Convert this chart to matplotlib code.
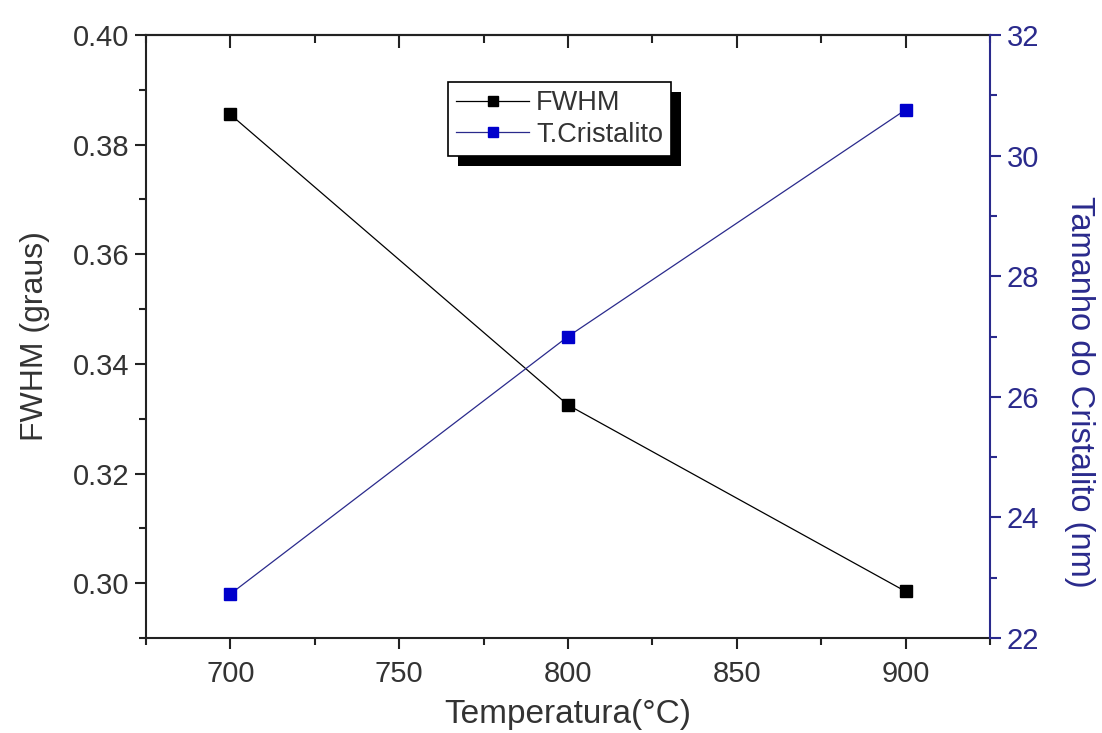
import matplotlib
matplotlib.use("Agg")
import matplotlib.pyplot as plt
from matplotlib.ticker import MultipleLocator
from matplotlib.patches import Rectangle

plt.rcParams['font.family'] = ['Liberation Sans', 'DejaVu Sans']

temperatura = [700, 800, 900]
fwhm = [0.3855, 0.3325, 0.2985]
cristalito = [22.73, 27.0, 30.76]

navy = '#2a2a8c'
txt = '#333333'
dark = '#222222'

W, H = 1102, 733
fig = plt.figure(figsize=(W/100, H/100), dpi=100)
ax = fig.add_axes([146/W, 1-638/H, (990-146)/W, (638-35)/H])
ax2 = ax.twinx()

l1, = ax.plot(temperatura, fwhm, color='black', lw=0.9, marker='s', ms=9,
              mfc='black', mec='black', label='FWHM')
l2, = ax2.plot(temperatura, cristalito, color=navy, lw=0.9, marker='s', ms=9,
               mfc='#0000cc', mec='#0000cc', label='T.Cristalito')

ax.set_xlim(675, 925)
ax.set_ylim(0.29, 0.40)
ax2.set_ylim(22, 32)

ax.xaxis.set_major_locator(MultipleLocator(50))
ax.xaxis.set_minor_locator(MultipleLocator(25))
ax.yaxis.set_major_locator(MultipleLocator(0.02))
ax.yaxis.set_minor_locator(MultipleLocator(0.01))
ax2.yaxis.set_major_locator(MultipleLocator(2))
ax2.yaxis.set_minor_locator(MultipleLocator(1))
ax.yaxis.set_major_formatter(plt.FuncFormatter(lambda v, p: f'{v:.2f}'))

ax.tick_params(axis='both', which='both', direction='out', labelsize=21,
               labelcolor=txt, color=dark, width=1.5)
ax.tick_params(axis='x', which='major', length=8, pad=8)
ax.tick_params(axis='x', which='minor', length=5)
ax.tick_params(axis='y', which='major', length=8, pad=4)
ax.tick_params(axis='y', which='minor', length=5)

top = ax.secondary_xaxis('top')
top.xaxis.set_major_locator(MultipleLocator(50))
top.xaxis.set_minor_locator(MultipleLocator(25))
top.tick_params(which='both', direction='in', labeltop=False, width=1.5, color=dark)
top.tick_params(which='major', length=9)
top.tick_params(which='minor', length=6)
top.spines['top'].set_linewidth(1.5)
top.spines['top'].set_color(dark)

ax2.tick_params(axis='y', which='both', direction='out', labelsize=21,
                labelcolor=navy, color=navy, width=1.5)
ax2.tick_params(axis='y', which='major', length=8, pad=4)
ax2.tick_params(axis='y', which='minor', length=5)

for s in ['left', 'bottom', 'top']:
    ax.spines[s].set_linewidth(1.5)
    ax.spines[s].set_color(dark)
ax2.spines['right'].set_color(navy)
ax2.spines['right'].set_linewidth(1.5)
for s in ['left', 'bottom', 'top']:
    ax2.spines[s].set_visible(False)
ax.spines['right'].set_visible(False)

ax.set_xlabel('Temperatura(°C)', fontsize=24, color=txt, labelpad=8)
ax.set_ylabel('FWHM (graus)', fontsize=23, color=txt, labelpad=16)
ax2.set_ylabel('Tamanho do Cristalito (nm)', fontsize=23.5, color=navy,
               rotation=270, va='center', ha='center')
ax2.yaxis.set_label_coords((1080-146)/844, (638-392)/603)

leg = ax2.legend(handles=[l1, l2], loc='upper left',
                 bbox_to_anchor=((448-146)/844, 1-(82-35)/603),
                 fontsize=19.5, frameon=True, fancybox=False, shadow=False,
                 edgecolor='black', borderpad=0.3, labelspacing=0.2,
                 handlelength=2.7, handletextpad=0.25, markerscale=0.8,
                 borderaxespad=0)
leg.get_frame().set_linewidth(1.2)
leg.get_frame().set_alpha(1)
for t in leg.get_texts():
    t.set_color(txt)

fig.canvas.draw()
bb = leg.get_window_extent()
sh = Rectangle((bb.x0 + 10, bb.y0 - 10), bb.width, bb.height, transform=None,
               facecolor='black', edgecolor='none', zorder=4.5)
ax2.add_artist(sh)

fig.savefig('out.png', dpi=100)
